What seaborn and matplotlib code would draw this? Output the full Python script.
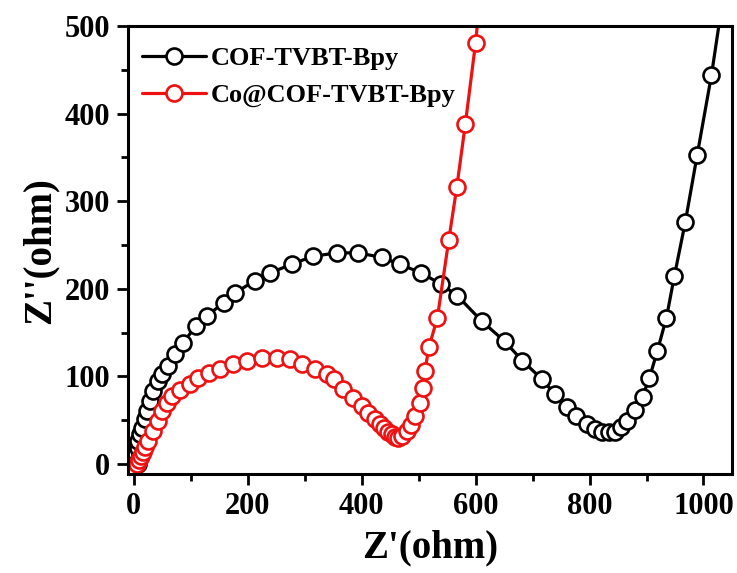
import numpy as np
import pandas as pd
import matplotlib
matplotlib.use("Agg")
import matplotlib.pyplot as plt
import seaborn as sns
from matplotlib.ticker import MultipleLocator

# ---- data (Nyquist plot) ----
cof_zre = [7, 7, 11, 7, 7, 11, 14, 19, 23, 28, 33, 42, 49, 60, 72, 86, 110, 128, 158, 177,
           212, 239, 277, 314, 356, 393, 435, 467, 505, 540, 568, 611, 651, 682, 716, 739,
           760, 777, 795, 810, 822, 834, 845, 856, 866, 879, 893, 905, 919, 935, 949, 968,
           989, 1014, 1036]
cof_zim = [0, 3, 11, 18, 26, 34, 41, 51, 61, 72, 83, 95, 103, 112, 126, 138, 158, 169, 184, 195,
           209, 218, 228, 237, 241, 241, 236, 228, 218, 205, 192, 163, 140, 118, 97, 80,
           65, 55, 46, 40, 37, 36, 37, 42, 49, 62, 77, 98, 129, 167, 215, 276,
           353, 444, 540]

co_zre = [6, 9, 12, 16, 20, 25, 33, 42, 49, 58, 67, 81, 98, 112, 133, 151, 174, 198, 225, 251,
          274, 296, 318, 339, 352, 367, 384, 400, 411, 423, 432, 440, 446, 453, 458, 463,
          470, 479, 486, 493, 502, 507, 511, 518, 533, 553, 567, 582, 600, 612]
co_zim = [0, 4, 9, 14, 19, 26, 38, 49, 61, 70, 78, 84, 91, 98, 104, 108, 114, 118, 121, 121,
          120, 114, 108, 103, 97, 86, 75, 66, 58, 51, 46, 41, 37, 34, 31, 30,
          32, 38, 45, 55, 70, 87, 106, 133, 167, 256, 316, 388, 481, 560]

series_names = ["COF-TVBT-Bpy", "Co@COF-TVBT-Bpy"]
x_ticks = [0, 200, 400, 600, 800, 1000]
y_ticks = [0, 100, 200, 300, 400, 500]

df_cof = pd.DataFrame({"zre": cof_zre, "zim": cof_zim})
df_co = pd.DataFrame({"zre": co_zre, "zim": co_zim})

sns.set_theme(style="ticks")
plt.rcParams["font.family"] = ["Liberation Serif", "DejaVu Serif"]
plt.rcParams["font.weight"] = "bold"
plt.rcParams["axes.labelweight"] = "bold"
plt.rcParams["text.color"] = "black"
plt.rcParams["axes.labelcolor"] = "black"
plt.rcParams["xtick.color"] = "black"
plt.rcParams["ytick.color"] = "black"

fig = plt.figure(figsize=(7.37, 5.73), dpi=100)
ax = fig.add_axes([0.1737, 0.172, 0.8195, 0.7825])

common = dict(marker="o", markersize=11.5, markerfacecolor="white", markeredgewidth=1.9,
              linewidth=2.3, sort=False, estimator=None, ax=ax)
sns.lineplot(data=df_cof, x="zre", y="zim", color="black", markeredgecolor="black",
             label=series_names[0], **common)
sns.lineplot(data=df_co, x="zre", y="zim", color="#ee1111", markeredgecolor="#ee1111",
             label=series_names[1], **common)

ax.set_xlim(-10, 1050)
ax.set_ylim(-12, 500)
ax.set_xticks(x_ticks)
ax.set_yticks(y_ticks)
ax.xaxis.set_minor_locator(MultipleLocator(100))
ax.yaxis.set_minor_locator(MultipleLocator(50))
ax.tick_params(axis="both", which="major", direction="out", length=8, width=2,
               labelsize=22, pad=5, color="black", labelcolor="black")
ax.tick_params(axis="both", which="minor", direction="out", length=5, width=2, color="black")
for lab in ax.get_xticklabels() + ax.get_yticklabels():
    lab.set_fontweight("bold")
for sp in ax.spines.values():
    sp.set_visible(True)
    sp.set_linewidth(2.2)
    sp.set_color("black")

ax.set_xlabel("Z'(ohm)", fontsize=28, fontweight="bold", labelpad=6, color="black")
ax.set_ylabel("Z''(ohm)", fontsize=28, fontweight="bold", labelpad=4, color="black")

leg = ax.legend(loc="upper left", bbox_to_anchor=(0.006, 0.978), frameon=False,
                handlelength=2.4, handletextpad=0.2, labelspacing=0.52, borderaxespad=0,
                prop={"weight": "bold", "size": 19})
for t in leg.get_texts():
    t.set_color("black")

fig.savefig("out.png", dpi=100)
